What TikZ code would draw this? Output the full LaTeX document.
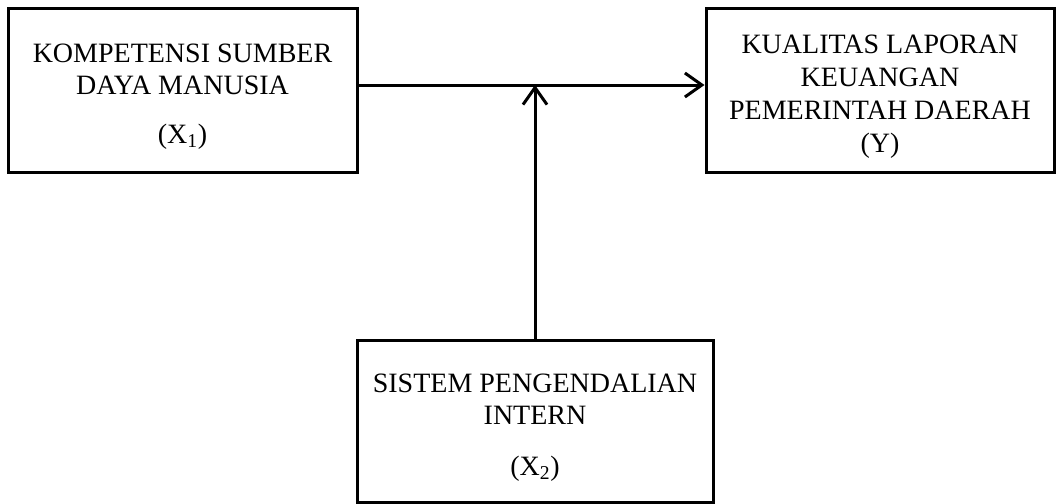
\documentclass[tikz,border=0pt]{standalone}
\usepackage{fontspec}
\setmainfont{Liberation Serif}
\usetikzlibrary{arrows.meta}
\newcommand{\toplift}{\rule{0pt}{31pt}}
\begin{document}
\begin{tikzpicture}[x=1pt, y=-1pt,
    box/.style={draw, line width=3pt, align=center, inner sep=0pt,
        font=\fontsize{28}{32}\selectfont},
    arr/.style={line width=3pt, -{Straight Barb[length=17pt, width=24pt, line width=3pt]}}]
    \useasboundingbox (0,0) rectangle (1056,503);
    \node[box, minimum width=349pt, minimum height=163pt] (ksdm) at (182.5,90.5)
        {\toplift KOMPETENSI SUMBER\\DAYA MANUSIA\\[17pt](X\textsubscript{1})};
    \node[box, minimum width=348pt, minimum height=163pt,
        font=\fontsize{28}{33}\selectfont] (klkpd) at (880,90.5)
        {\toplift KUALITAS LAPORAN\\KEUANGAN\\PEMERINTAH DAERAH\\(Y)};
    \node[box, minimum width=356pt, minimum height=162pt] (spi) at (535,421)
        {\toplift SISTEM PENGENDALIAN\\INTERN\\[19pt](X\textsubscript{2})};
    \draw[arr] ([yshift=5.5pt]ksdm.east) -- coordinate[pos=0.5] (mid) ([yshift=5.5pt]klkpd.west);
    \draw[arr] (spi.north) -- (spi.north |- mid);
\end{tikzpicture}
\end{document}
